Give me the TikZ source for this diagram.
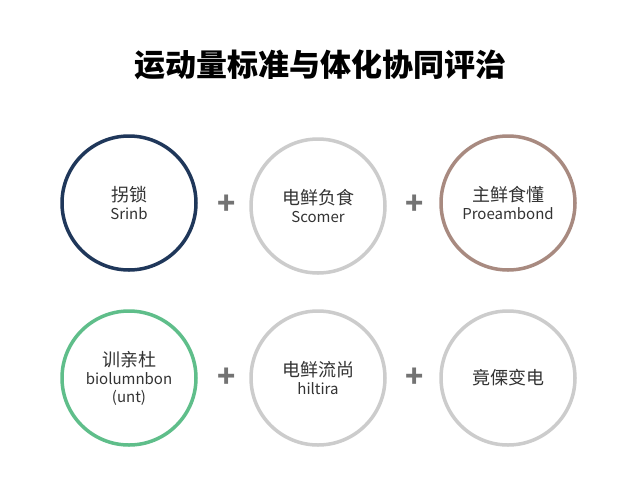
\documentclass[tikz,border=0pt]{standalone}
\usepackage{fontspec}
\setmainfont{Noto Sans CJK SC}
\begin{document}
\begin{tikzpicture}[x=1pt,y=-1pt,
  ring/.style={circle,minimum size=134pt,line width=3.5pt,fill=white,align=center,font=\fontsize{15}{18}\selectfont,text=black!80},
  plus/.style={font=\fontsize{30}{30}\selectfont\bfseries,text=black!55}]
\fill[white] (0,0) rectangle (640,480);
\useasboundingbox (0,0) rectangle (640,480);
\node[font=\fontsize{31}{34}\selectfont\bfseries] (t) at (320,65) {运动量标准与体化协同评治};
\node[ring,draw={rgb,255:red,31;green,55;blue,90}] (a) at (129,203) {{\fontsize{18}{22}\selectfont 拐锁}\\Srinb};
\node[ring,draw=black!20] (b) at (318,206) {{\fontsize{18}{22}\selectfont 电鲜负食}\\Scomer};
\node[ring,draw={rgb,255:red,168;green,138;blue,128}] (c) at (508,203) {{\fontsize{18}{22}\selectfont 主鲜食懂}\\Proeambond};
\node[ring,draw={rgb,255:red,95;green,190;blue,138}] (d) at (129,378) {{\fontsize{18}{22}\selectfont 训亲杜}\\biolumnbon\\(unt)};
\node[ring,draw=black!20] (e) at (318,378) {{\fontsize{18}{22}\selectfont 电鲜流尚}\\hiltira};
\node[ring,draw=black!20] (f) at (508,378) {{\fontsize{18}{22}\selectfont 竟傈变电}};
\node[plus] (p1) at (227,205) {+};
\node[plus] (p2) at (415,205) {+};
\node[plus] (p3) at (227,378) {+};
\node[plus] (p4) at (415,378) {+};
\end{tikzpicture}
\end{document}
